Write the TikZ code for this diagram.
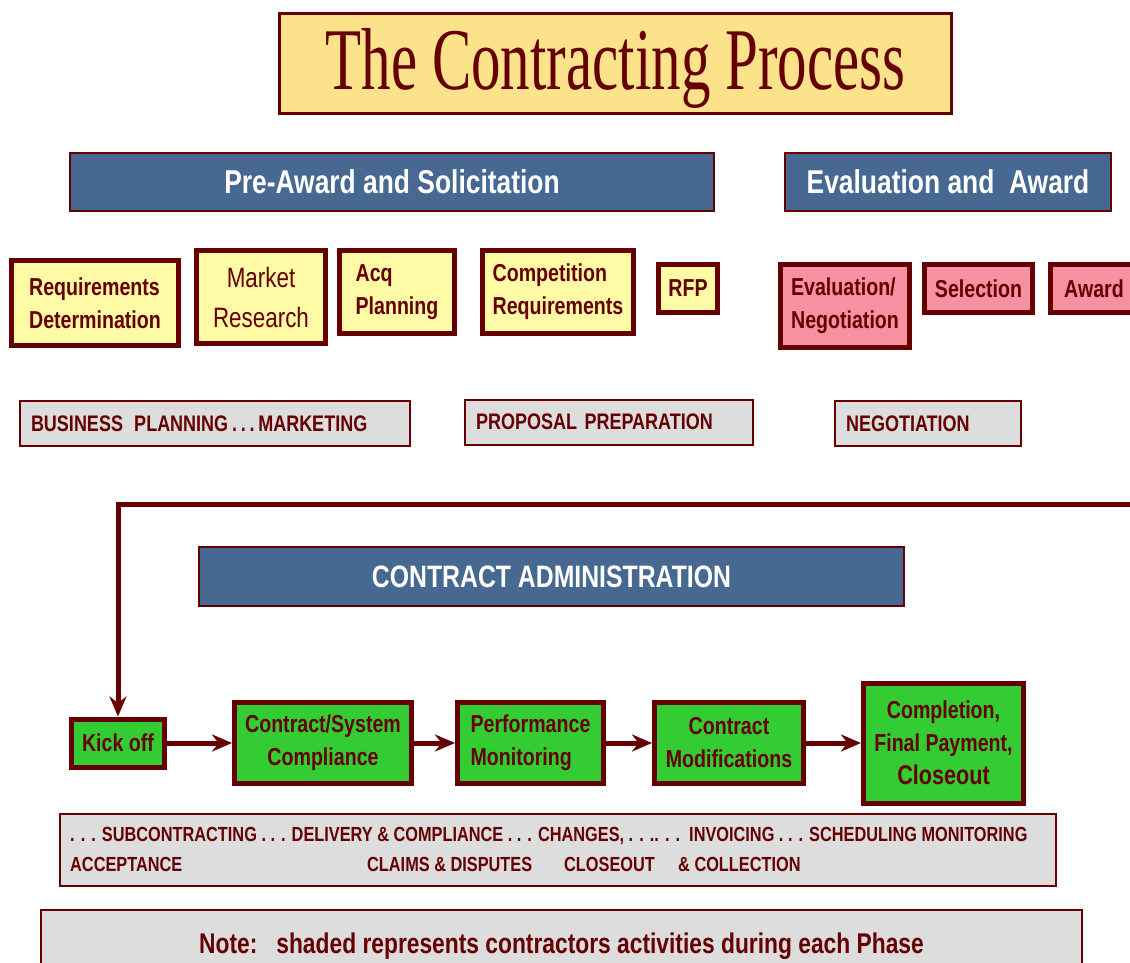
\documentclass[tikz,border=0pt]{standalone}
\usepackage{fontspec}
\usepackage{xcolor}
\usepackage{tikz}
\usetikzlibrary{arrows.meta}

\newfontfamily\narrowsf[FakeStretch=0.8]{Liberation Sans}
\newfontfamily\titleserif[FakeStretch=0.67]{Liberation Serif}

\definecolor{darkred}{RGB}{102,0,0}
\definecolor{titlefill}{RGB}{253,226,140}
\definecolor{headblue}{RGB}{70,104,145}
\definecolor{preyellow}{RGB}{255,250,165}
\definecolor{evalpink}{RGB}{245,145,160}
\definecolor{actgrey}{RGB}{221,221,221}
\definecolor{postgreen}{RGB}{51,204,51}

\begin{document}
\begin{tikzpicture}[x=1pt,y=-1pt,
    titlebox/.style={draw=darkred,line width=2.5pt,fill=titlefill,text=darkred,text depth=9pt,
      font={\titleserif\fontsize{88}{94}\selectfont}},
    head/.style={draw=darkred,line width=2pt,fill=headblue,text=white,
      font={\narrowsf\bfseries\fontsize{33}{38}\selectfont}},
    stagebox/.style={draw=darkred,line width=5pt,text=darkred,align=center,inner sep=2pt,
      font={\narrowsf\bfseries\fontsize{24.5}{33}\selectfont}},
    prebox/.style={stagebox,fill=preyellow},
    evalbox/.style={stagebox,fill=evalpink},
    postbox/.style={stagebox,fill=postgreen},
    actbox/.style={draw=darkred,line width=2pt,fill=actgrey,text=darkred,align=left,
      inner xsep=11pt,minimum height=45pt,
      font={\narrowsf\bfseries\fontsize{22.5}{27}\selectfont}},
    dutytext/.style={text=darkred,inner sep=0pt,
      font={\narrowsf\bfseries\fontsize{20.4}{25}\selectfont}},
    flow/.style={draw=darkred,line width=5pt,-{Stealth[length=20pt,width=17pt]}}]

    \useasboundingbox (0,0) rectangle (1130,962);
    \clip (0,0) rectangle (1130,962);

    \node[titlebox,minimum width=672pt,minimum height=100pt] (title) at (615.5,63.5) {The Contracting Process};

    \node[head,minimum width=644pt,minimum height=58pt] (preaward) at (392,182) {Pre-Award and Solicitation};
    \node[head,minimum width=326pt,minimum height=58pt] (evalaward) at (948,182) {Evaluation and\ \ Award};

    \node[prebox,minimum width=167pt,minimum height=85pt,align=left] (reqdet) at (95,303) {Requirements\\Determination};
    \node[prebox,minimum width=129pt,minimum height=93pt,
      font={\narrowsf\fontsize{28}{40}\selectfont}] (market) at (261,297) {Market\\Research};
    \node[prebox,minimum width=115pt,minimum height=83pt,align=left] (acq) at (397,292) {Acq\\Planning};
    \node[prebox,minimum width=151pt,minimum height=83pt,align=left] (compreq) at (558,292) {Competition\\Requirements};
    \node[prebox,minimum width=59pt,minimum height=48pt] (rfp) at (688,288.5) {RFP};

    \node[evalbox,minimum width=129pt,minimum height=83pt,align=left] (evalneg) at (845,306) {Evaluation/\\Negotiation};
    \node[evalbox,minimum width=108pt,minimum height=48pt] (select) at (978.5,288.5) {Selection};
    \node[evalbox,minimum width=87pt,minimum height=48pt] (award) at (1094,288.5) {Award};

    \node[actbox,text width=368pt] (bizplan) at (215,423.5) {BUSINESS\ \,PLANNING\,.\,.\,.\,MARKETING};
    \node[actbox,text width=266pt] (proposal) at (609,422) {PROPOSAL PREPARATION};
    \node[actbox,text width=164pt] (negot) at (928,423.5) {NEGOTIATION};

    \coordinate (loopin) at (1140,504);
    \node[head,minimum width=705pt,minimum height=59pt,
      font={\narrowsf\bfseries\fontsize{31}{36}\selectfont}] (admin) at (551.5,576.5) {CONTRACT ADMINISTRATION};

    \node[postbox,minimum width=93pt,minimum height=48pt] (kick) at (118,743) {Kick off};
    \node[postbox,minimum width=177pt,minimum height=81pt] (compliance) at (323,743) {Contract/System\\Compliance};
    \node[postbox,minimum width=146pt,minimum height=81pt,align=left] (perform) at (530.5,743) {Performance\\Monitoring};
    \node[postbox,minimum width=149pt,minimum height=81pt] (modify) at (729,743) {Contract\\Modifications};
    \node[postbox,minimum width=160pt,minimum height=120pt] (closeout) at (943.5,743)
      {Completion,\\Final Payment,\\{\fontsize{27}{34}\selectfont Closeout}};

    \draw[flow] (loopin) -| (kick.north);
    \draw[flow] (kick) -- (compliance);
    \draw[flow] (compliance) -- (perform);
    \draw[flow] (perform) -- (modify);
    \draw[flow] (modify) -- (closeout);

    \node[actbox,minimum width=996pt,minimum height=72pt] (duties) at (558,850) {};
    \node[dutytext,anchor=west] (dutyline) at (70,836)
      {. . . SUBCONTRACTING . . . DELIVERY \& COMPLIANCE . . . CHANGES, . . .. . .\ \ INVOICING . . . SCHEDULING MONITORING};
    \node[dutytext,anchor=west] (accept) at (70,864) {ACCEPTANCE};
    \node[dutytext,anchor=west] (claims) at (367,864) {CLAIMS \& DISPUTES};
    \node[dutytext,anchor=west] (closing) at (564,864) {CLOSEOUT};
    \node[dutytext,anchor=west] (collect) at (678,864) {\& COLLECTION};

    \node[actbox,align=center,minimum width=1041pt,minimum height=72pt,
      font={\narrowsf\bfseries\fontsize{28.5}{34}\selectfont}] (note) at (561.5,946)
      {Note:\ \ \ shaded represents contractors activities during each Phase};
\end{tikzpicture}
\end{document}
